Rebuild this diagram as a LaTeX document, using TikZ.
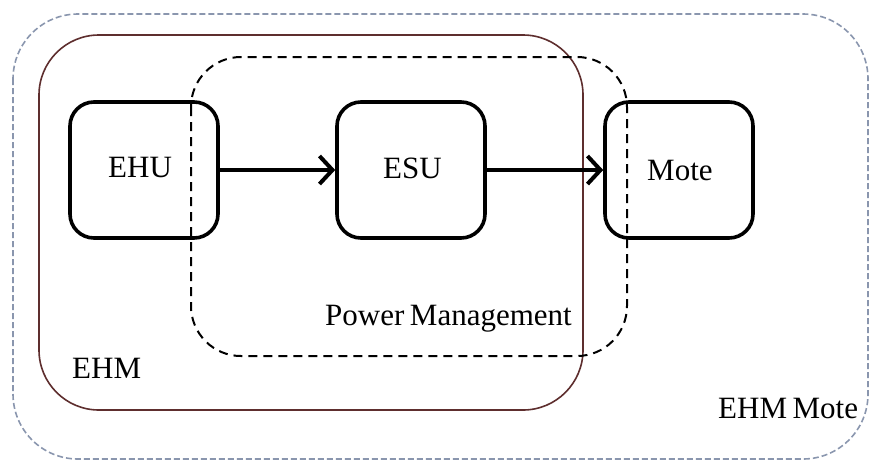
\documentclass[tikz,border=0pt]{standalone}
\usepackage{fontspec}
\setmainfont{Liberation Serif}
\usetikzlibrary{arrows.meta}
\definecolor{outerc}{HTML}{8A96AE}
\definecolor{ehmc}{HTML}{5E2E2E}
\newcommand{\mylblfont}{\fontsize{31}{36}\selectfont\spaceskip=0.18em plus 0.05em\relax}
\begin{document}
\begin{tikzpicture}[x=1pt,y=-1pt,
  box/.style={draw, line width=3.6pt, rounded corners=24pt, minimum width=148pt, minimum height=136pt, inner sep=0pt},
  lbl/.style={font=\mylblfont, inner sep=0pt, anchor=base west},
  flow/.style={line width=4pt, -{Straight Barb[length=13pt,width=28pt]}},
  outerline/.style={draw=outerc, line width=1.6pt, dash pattern=on 6pt off 3pt, rounded corners=65pt},
  ehmline/.style={draw=ehmc, line width=1.6pt, rounded corners=60pt},
  pmline/.style={draw=black, line width=2pt, dash pattern=on 9pt off 6pt, rounded corners=50pt}]
\useasboundingbox (0,0) rectangle (869,461);
% containers
\draw[outerline] (13,14) rectangle (868,459);
\draw[ehmline] (39,35) rectangle (583,410);
\draw[pmline] (191,57) rectangle (627,356);
% boxes
\node[box] (ehu) at (144,170) {};
\node[box] (esu) at (411,170) {};
\node[box] (mote) at (679,170) {};
% labels
\node[lbl] (ehut) at (108,177) {EHU};
\node[lbl] (esut) at (383,178) {ESU};
\node[lbl] (motet) at (647,180) {Mote};
\node[lbl] (pmt) at (325,325) {Power Management};
\node[lbl] (ehmt) at (72,378) {EHM};
\node[lbl] (ehmmt) at (718,418) {EHM Mote};
% connectors
\draw[flow] (ehu.east) -- (esu.west);
\draw[flow] (esu.east) -- (mote.west);
\end{tikzpicture}
\end{document}
